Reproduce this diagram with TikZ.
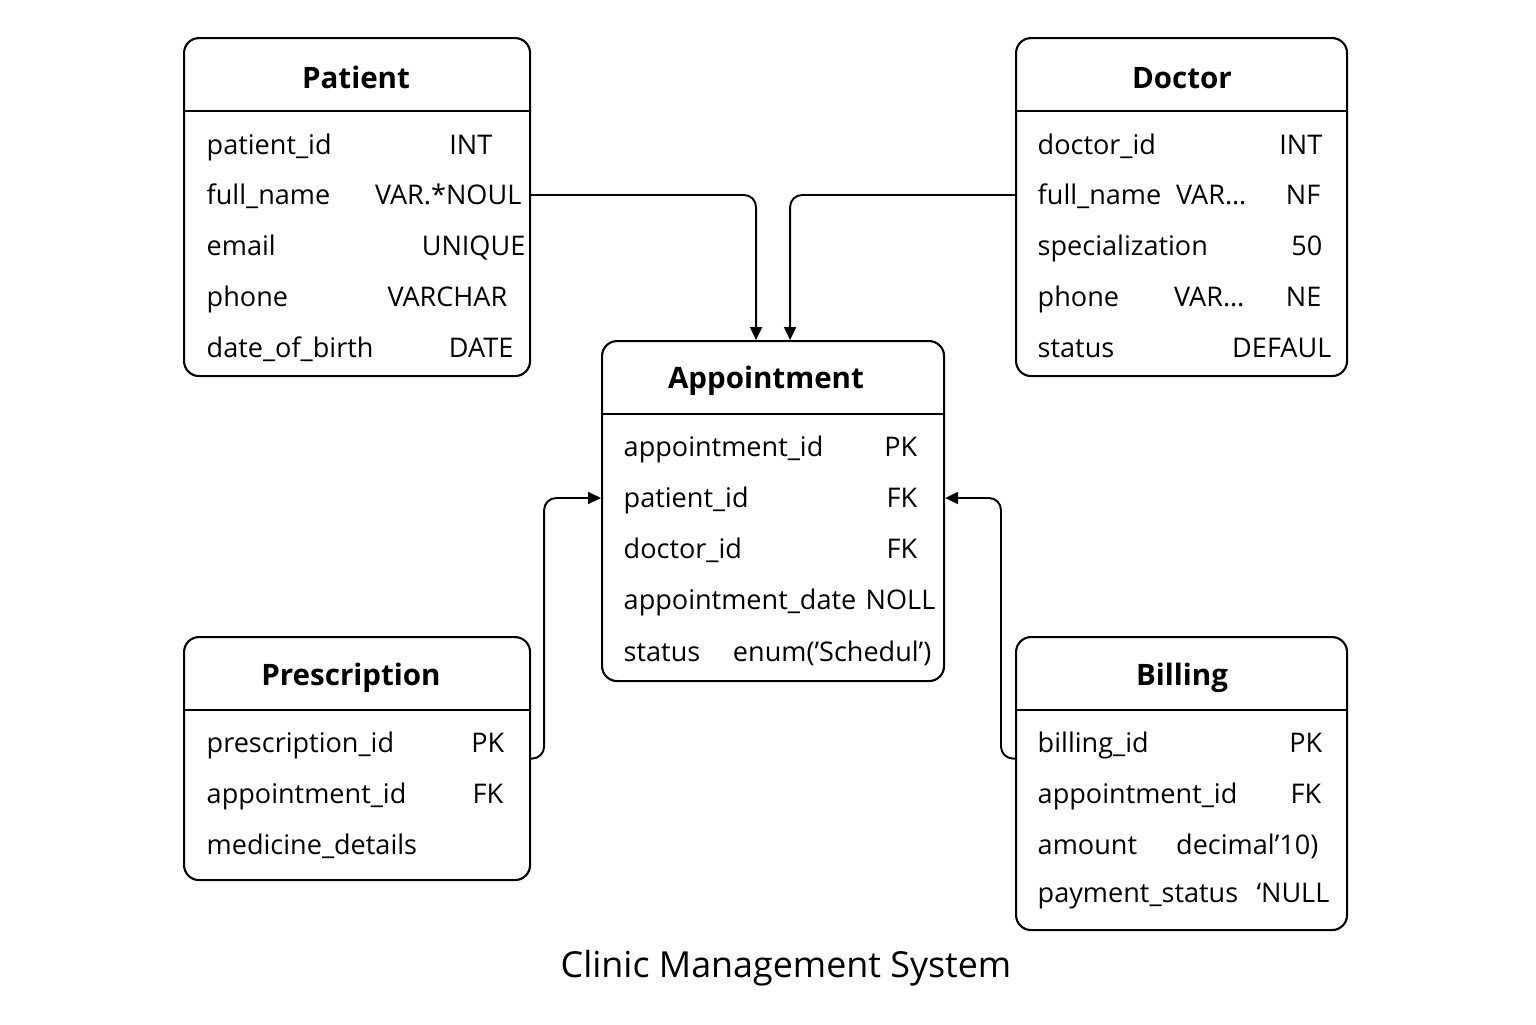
\documentclass[tikz,border=0pt]{standalone}
\usepackage{fontspec}
\setmainfont{Open Sans}
\usetikzlibrary{arrows.meta}

\begin{document}
\begin{tikzpicture}[x=1cm,y=-1cm,
  tbl/.style={draw,line width=0.6pt,rounded corners=0.15cm,inner sep=0,anchor=north west},
  hline/.style={line width=0.5pt},
  ttl/.style={font=\fontsize{8.4}{10}\selectfont\bfseries,inner sep=0,text height=6pt,text depth=0pt},
  fld/.style={font=\fontsize{7.7}{9}\selectfont,inner sep=0,text height=5.5pt,text depth=0pt,anchor=west},
  typ/.style={fld,anchor=east},
  fk/.style={line width=0.55pt,rounded corners=0.12cm,-{Triangle[length=1.3mm,width=1.2mm]}}]
\useasboundingbox[fill=white] (0,0) rectangle (15.36,10.24);

\node[tbl,minimum width=3.46cm,minimum height=3.38cm] (patient) at (1.83,0.37) {};
\draw[hline] ([yshift=-0.74cm]patient.north west) -- ([yshift=-0.74cm]patient.north east);
\node[ttl] (patient-t) at (3.56,0.78) {Patient};
\node[fld] (p1) at (2.06,1.45) {patient\_id};
\node[typ] (p1t) at (4.93,1.45) {INT};
\node[fld] (p2) at (2.06,1.95) {full\_name};
\node[typ] (p2t) at (5.22,1.95) {VAR.*NOUL};
\node[fld] (p3) at (2.06,2.46) {email};
\node[typ] (p3t) at (5.26,2.46) {UNIQUE};
\node[fld] (p4) at (2.06,2.97) {phone};
\node[typ] (p4t) at (5.08,2.97) {VARCHAR};
\node[fld] (p5) at (2.06,3.48) {date\_of\_birth};
\node[typ] (p5t) at (5.14,3.48) {DATE};

\node[tbl,minimum width=3.31cm,minimum height=3.38cm] (doctor) at (10.15,0.37) {};
\draw[hline] ([yshift=-0.74cm]doctor.north west) -- ([yshift=-0.74cm]doctor.north east);
\node[ttl] (doctor-t) at (11.82,0.78) {Doctor};
\node[fld] (d1) at (10.37,1.45) {doctor\_id};
\node[typ] (d1t) at (13.23,1.45) {INT};
\node[fld] (d2) at (10.37,1.95) {full\_name};
\node[typ] (d2m) at (12.47,1.95) {VAR…};
\node[typ] (d2t) at (13.21,1.95) {NF};
\node[fld] (d3) at (10.37,2.46) {specialization};
\node[typ] (d3t) at (13.23,2.46) {50};
\node[fld] (d4) at (10.37,2.97) {phone};
\node[typ] (d4m) at (12.45,2.97) {VAR…};
\node[typ] (d4t) at (13.22,2.97) {NE};
\node[fld] (d5) at (10.37,3.48) {status};
\node[typ] (d5t) at (13.32,3.48) {DEFAUL};

\node[tbl,minimum width=3.42cm,minimum height=3.40cm] (appt) at (6.01,3.40) {};
\draw[hline] ([yshift=-0.74cm]appt.north west) -- ([yshift=-0.74cm]appt.north east);
\node[ttl] (appt-t) at (7.66,3.78) {Appointment};
\node[fld] (a1) at (6.23,4.47) {appointment\_id};
\node[typ] (a1t) at (9.18,4.47) {PK};
\node[fld] (a2) at (6.23,4.98) {patient\_id};
\node[typ] (a2t) at (9.18,4.98) {FK};
\node[fld] (a3) at (6.23,5.49) {doctor\_id};
\node[typ] (a3t) at (9.18,5.49) {FK};
\node[fld] (a4) at (6.23,6.00) {appointment\_date};
\node[typ] (a4t) at (9.36,6.00) {NOLL};
\node[fld] (a5) at (6.23,6.52) {status};
\node[typ] (a5t) at (9.32,6.52) {enum(’Schedul’)};

\node[tbl,minimum width=3.46cm,minimum height=2.43cm] (presc) at (1.83,6.36) {};
\draw[hline] ([yshift=-0.74cm]presc.north west) -- ([yshift=-0.74cm]presc.north east);
\node[ttl] (presc-t) at (3.51,6.75) {Prescription};
\node[fld] (r1) at (2.06,7.43) {prescription\_id};
\node[typ] (r1t) at (5.05,7.43) {PK};
\node[fld] (r2) at (2.06,7.94) {appointment\_id};
\node[typ] (r2t) at (5.04,7.94) {FK};
\node[fld] (r3) at (2.06,8.45) {medicine\_details};

\node[tbl,minimum width=3.31cm,minimum height=2.93cm] (billing) at (10.15,6.36) {};
\draw[hline] ([yshift=-0.74cm]billing.north west) -- ([yshift=-0.74cm]billing.north east);
\node[ttl] (billing-t) at (11.82,6.75) {Billing};
\node[fld] (b1) at (10.37,7.43) {billing\_id};
\node[typ] (b1t) at (13.23,7.43) {PK};
\node[fld] (b2) at (10.37,7.94) {appointment\_id};
\node[typ] (b2t) at (13.22,7.94) {FK};
\node[fld] (b3) at (10.37,8.45) {amount};
\node[typ] (b3t) at (13.19,8.45) {decimal’10)};
\node[fld] (b4) at (10.37,8.93) {payment\_status};
\node[typ] (b4t) at (13.30,8.93) {‘NULL};

\draw[fk] (patient.east |- p2) -| ([xshift=-0.17cm]appt.north);
\draw[fk] (doctor.west |- d2) -| ([xshift=0.17cm]appt.north);
\draw[fk] (presc.east) -- ++(0.13,0) |- (appt.west |- a2);
\draw[fk] (billing.west |- presc.east) -- ++(-0.14,0) |- (appt.east |- a2);

\node[font=\fontsize{10.2}{12}\selectfont] (caption) at (7.86,9.68) {Clinic Management System};
\end{tikzpicture}
\end{document}
